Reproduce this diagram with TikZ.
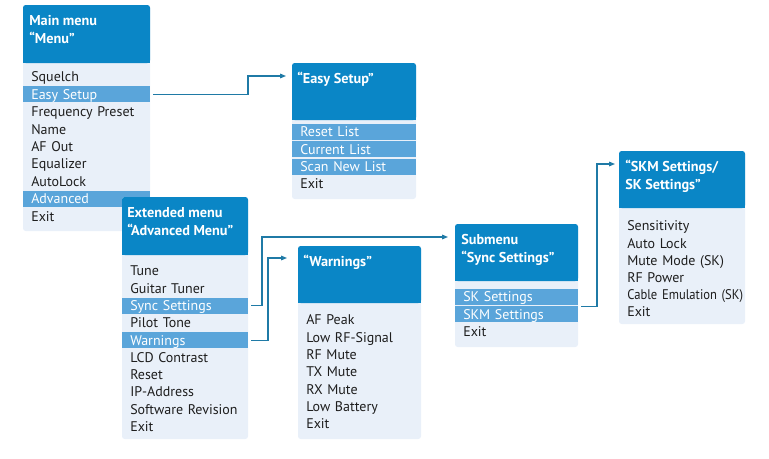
\documentclass[tikz,border=0pt]{standalone}
\usepackage{fontspec}
\setmainfont{PT Sans}
\usetikzlibrary{arrows.meta}

\definecolor{headblue}{HTML}{0A86C6}
\definecolor{barblue}{HTML}{5AA5DA}
\definecolor{bodyblue}{HTML}{E9F0F9}
\definecolor{linkblue}{HTML}{1F7AA6}
\definecolor{itemgray}{HTML}{1E1E1E}

\tikzset{
	title/.style={anchor=base west, inner sep=0pt, text=white, font=\fontsize{10.7}{12}\selectfont\bfseries},
	row/.style={anchor=west, inner sep=0pt, inner xsep=6pt, minimum height=12pt, text height=9.5pt, text depth=2.3pt, text width=#1, align=left, text=itemgray, font=\fontsize{10.5}{12}\selectfont,
		execute at begin node={\leavevmode\hbox\bgroup}, execute at end node={\egroup}},
	hlrow/.style={row=#1, fill=barblue, text=white},
	link/.style={draw=linkblue, line width=0.8pt, -{Triangle[length=4.5pt,width=3.5pt]}},
}

% body, header (x1,y1,x2,y2,yhead)
\newcommand\menubox[5]{%
	\fill[bodyblue, rounded corners=2pt] (#1,#2) rectangle (#3,#4);
	\fill[headblue, rounded corners=2pt] (#1,#2) rectangle (#3,#5);
	\fill[headblue] (#1,#5-5) rectangle (#3,#5);
}

\begin{document}
\begin{tikzpicture}[x=0.75pt,y=0.75pt,yscale=-1,xscale=1]
	\useasboundingbox (0,0) rectangle (769,458);
	% main menu
	\menubox{23}{5}{150}{231}{63}
	\node[title] (m-t1) at (29,25) {Main menu};
	\node[title] (m-t2) at (29,43) {“Menu”};
	\node[row=83.25pt] (m-squelch) at (23,77) {Squelch};
	\node[hlrow=83.25pt] (m-easy) at (23,94.4) {Easy Setup};
	\node[row=83.25pt] (m-freq) at (23,111.8) {Frequency Preset};
	\node[row=83.25pt] (m-name) at (23,129.2) {Name};
	\node[row=83.25pt] (m-af) at (23,146.6) {AF Out};
	\node[row=83.25pt] (m-eq) at (23,164) {Equalizer};
	\node[row=83.25pt] (m-lock) at (23,181.4) {AutoLock};
	\node[hlrow=83.25pt] (m-adv) at (23,198.8) {Advanced};
	\node[row=83.25pt] (m-exit) at (23,216.2) {Exit};
	% easy setup
	\menubox{292}{63}{416}{199}{120}
	\node[title] (e-t1) at (297,83) {“Easy Setup”};
	\node[hlrow=81pt] (e-reset) at (292,132) {Reset List};
	\node[hlrow=81pt] (e-current) at (292,149.3) {Current List};
	\node[hlrow=81pt] (e-scan) at (292,166.6) {Scan New List};
	\node[row=81pt] (e-exit) at (292,183.9) {Exit};
	% extended menu
	\menubox{122}{197}{248}{439}{255}
	\node[title] (x-t1) at (127,217) {Extended menu};
	\node[title] (x-t2) at (127,235) {“Advanced Menu”};
	\node[row=82.5pt] (x-tune) at (122,271) {Tune};
	\node[row=82.5pt] (x-guitar) at (122,288.3) {Guitar Tuner};
	\node[hlrow=82.5pt] (x-sync) at (122,305.6) {Sync Settings};
	\node[row=82.5pt] (x-pilot) at (122,322.9) {Pilot Tone};
	\node[hlrow=82.5pt] (x-warn) at (122,340.2) {Warnings};
	\node[row=82.5pt] (x-lcd) at (122,357.5) {LCD Contrast};
	\node[row=82.5pt] (x-reset) at (122,374.8) {Reset};
	\node[row=82.5pt] (x-ip) at (122,392.1) {IP-Address};
	\node[row=82.5pt] (x-soft) at (122,409.4) {Software Revision};
	\node[row=82.5pt] (x-exit) at (122,426.7) {Exit};
	% warnings
	\menubox{298}{246}{421}{439}{303}
	\node[title] (w-t1) at (303,266) {“Warnings”};
	\node[row=80.25pt] (w-peak) at (298,320) {AF Peak};
	\node[row=80.25pt] (w-lowrf) at (298,337.3) {Low RF-Signal};
	\node[row=80.25pt] (w-rfmute) at (298,354.6) {RF Mute};
	\node[row=80.25pt] (w-txmute) at (298,371.9) {TX Mute};
	\node[row=80.25pt] (w-rxmute) at (298,389.2) {RX Mute};
	\node[row=80.25pt] (w-batt) at (298,406.5) {Low Battery};
	\node[row=80.25pt] (w-exit) at (298,423.8) {Exit};
	% sync settings
	\menubox{455}{224}{578}{347}{281}
	\node[title] (s-t1) at (461,244) {Submenu};
	\node[title] (s-t2) at (461,262) {“Sync Settings”};
	\node[hlrow=80.25pt] (s-sk) at (455,297) {SK Settings};
	\node[hlrow=80.25pt] (s-skm) at (455,314.3) {SKM Settings};
	\node[row=80.25pt] (s-exit) at (455,331.6) {Exit};
	% skm / sk settings
	\menubox{619}{151}{745}{324}{208}
	\node[title] (k-t1) at (625,171) {“SKM Settings/};
	\node[title] (k-t2) at (625,189) {SK Settings”};
	\node[row=82.5pt] (k-sens) at (619,226) {Sensitivity};
	\node[row=82.5pt] (k-lock) at (619,243.2) {Auto Lock};
	\node[row=82.5pt] (k-mute) at (619,260.4) {Mute Mode (SK)};
	\node[row=82.5pt] (k-rf) at (619,277.6) {RF Power};
	\node[row=82.5pt] (k-cable) at (619,294.8) {\addfontfeature{FakeStretch=0.9}Cable Emulation (SK)};
	\node[row=82.5pt] (k-exit) at (619,312) {Exit};
	% connectors
	\coordinate (easy-bend) at (248,76);
	\coordinate (easy-in) at (286,76);
	\coordinate (sync-bend) at (262,237);
	\coordinate (sync-in) at (448,237);
	\coordinate (warn-bend) at (268,258);
	\coordinate (warn-in) at (287,258);
	\coordinate (skm-bend) at (597,164);
	\coordinate (skm-in) at (615,164);
	\draw[link] ([xshift=2pt]m-easy.east) -| (easy-bend) -- (easy-in);
	\draw[link] ([xshift=2pt]x-sync.east) -| (sync-bend) -- (sync-in);
	\draw[link] ([xshift=2pt]x-warn.east) -| (warn-bend) -- (warn-in);
	\draw[link] ([xshift=2pt]s-skm.north east) -| (skm-bend) -- (skm-in);
\end{tikzpicture}
\end{document}
